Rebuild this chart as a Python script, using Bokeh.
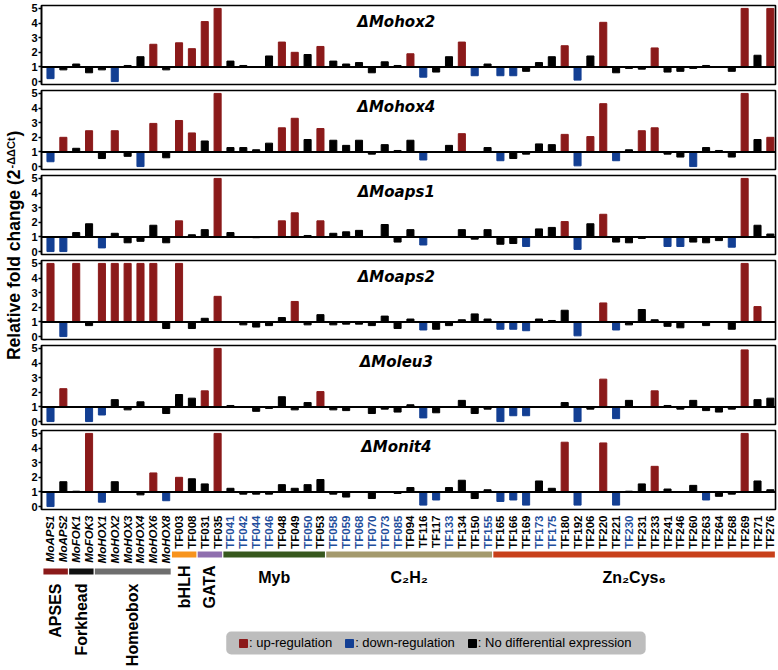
import math
from bokeh.plotting import figure
from bokeh.models import Range1d, Span, Label, ColumnDataSource, FixedTicker, BoxAnnotation
from bokeh.layouts import row, column
from bokeh.embed import file_html
from bokeh.resources import INLINE
from bokeh.core.properties import value

# ---------------- data ----------------
genes = ["MoAPS1", "MoAPS2", "MoFOK1", "MoFOK3", "MoHOX1", "MoHOX2", "MoHOX3", "MoHOX4",
         "MoHOX6", "MoHOX8", "TF003", "TF008", "TF031", "TF035", "TF041", "TF042", "TF044",
         "TF046", "TF048", "TF049", "TF050", "TF053", "TF058", "TF059", "TF068", "TF070",
         "TF073", "TF085", "TF094", "TF116", "TF117", "TF133", "TF134", "TF150", "TF155",
         "TF165", "TF166", "TF169", "TF173", "TF175", "TF180", "TF192", "TF206", "TF220",
         "TF221", "TF230", "TF231", "TF233", "TF241", "TF246", "TF260", "TF263", "TF264",
         "TF268", "TF269", "TF271", "TF276"]
blue_label_genes = ["TF041", "TF042", "TF044", "TF046", "TF050", "TF058", "TF059", "TF068",
                    "TF070", "TF073", "TF085", "TF133", "TF155", "TF173", "TF175", "TF230"]

group_names = ["APSES", "Forkhead", "Homeobox", "bHLH", "GATA", "Myb", "C\u2082H\u2082", "Zn\u2082Cys\u2086"]
group_sizes = [2, 2, 6, 2, 2, 8, 13, 22]
group_colors = ["#8b1a1a", "#111111", "#6e6e6e", "#f7941d", "#8f6fae", "#37581e", "#a49a6d", "#c8401a"]

mutants = ["\u0394Mohox2", "\u0394Mohox4", "\u0394Moaps1", "\u0394Moaps2", "\u0394Moleu3", "\u0394Monit4"]

mohox2 = [0.2, 0.8, 1.2, 0.6, 0.8, 0.0, 1.1, 1.7, 2.55, 0.8,
          2.65, 2.25, 4.1, 5.0, 1.4, 1.1, 1.0, 1.75, 2.7, 2.0,
          1.85, 2.4, 1.4, 1.2, 1.3, 0.6, 1.35, 1.1, 1.9, 0.3,
          0.65, 1.7, 2.7, 0.4, 1.2, 0.4, 0.4, 0.7, 1.3, 1.7,
          2.45, 0.1, 1.75, 4.05, 0.6, 0.9, 0.85, 2.3, 0.65, 0.7,
          0.9, 1.1, 1.0, 0.7, 5.0, 1.8, 5.0]
mohox2_status = "dnnnndnnun" "uuuunnnnuu" "nunnnnnnud" "nnudnddnnn" "udnunnnunn" "nnnnunu"

mohox4 = [0.33, 2.0, 1.25, 2.45, 0.55, 2.45, 0.7, 0.0, 2.95, 0.6,
          3.15, 2.3, 1.75, 5.0, 1.3, 1.3, 1.15, 1.6, 2.65, 3.3,
          1.85, 2.6, 1.8, 1.45, 1.8, 0.85, 1.5, 1.1, 1.8, 0.45,
          1.0, 1.45, 2.25, 1.0, 1.3, 0.4, 0.55, 0.85, 1.55, 1.5,
          2.2, 0.05, 2.05, 4.3, 0.4, 1.15, 2.45, 2.65, 0.85, 0.65,
          0.0, 1.3, 1.1, 0.65, 5.0, 1.85, 2.0]
mohox4_status = "dununundun" "uununnnnuu" "nunnnnnnnd" "nnunndnnnn" "uduudnuunn" "dnnnunu"

moaps1 = [0.0, 0.0, 1.3, 1.9, 0.25, 1.25, 0.6, 0.7, 1.8, 0.6,
          2.1, 1.15, 1.5, 5.0, 1.3, 1.0, 0.95, 1.0, 2.1, 2.65,
          1.1, 2.1, 1.25, 1.35, 1.45, 1.0, 1.85, 0.65, 1.5, 0.45,
          1.0, 0.97, 1.5, 0.85, 1.5, 0.5, 0.55, 0.35, 1.55, 1.65,
          2.05, 0.15, 1.9, 2.55, 0.65, 0.6, 0.9, 1.0, 0.35, 0.35,
          0.65, 0.6, 0.75, 0.3, 5.0, 1.8, 1.2]
moaps1_status = "ddnndnnnnn" "unnunnnnuu" "nunnnnnnnd" "nnnnnnndnn" "udnunnnndd" "nnndunn"

moaps2 = [5.0, 0.0, 5.0, 0.75, 5.0, 5.0, 5.0, 5.0, 5.0, 0.55,
          5.0, 0.55, 1.25, 2.75, 1.0, 0.8, 0.65, 0.75, 1.3, 2.4,
          0.8, 1.5, 0.8, 0.85, 0.85, 0.75, 1.4, 0.55, 1.2, 0.45,
          0.5, 0.75, 1.15, 1.55, 1.2, 0.5, 0.5, 0.4, 1.2, 1.1,
          1.8, 0.05, 1.0, 2.3, 0.45, 0.8, 1.85, 1.15, 0.7, 0.6,
          1.0, 0.75, 1.0, 0.5, 5.0, 2.05, 1.0]
moaps2_status = "udunuuuuun" "unnunnnnnu" "nnnnnnnnnd" "nnnnndddnn" "ndnudnnnnn" "nnnnuun"

moleu3 = [0.0, 2.25, 0.98, 0.0, 0.45, 1.5, 0.8, 1.35, 1.0, 0.55,
          1.85, 1.6, 2.1, 5.0, 1.1, 0.98, 0.7, 0.9, 1.7, 0.8,
          1.3, 2.05, 0.8, 0.75, 1.0, 0.55, 0.85, 0.65, 1.15, 0.25,
          0.6, 1.0, 1.45, 0.55, 0.85, 0.0, 0.4, 0.4, 1.0, 1.0,
          1.3, 0.0, 0.85, 2.9, 0.2, 1.45, 1.0, 2.1, 1.1, 0.85,
          1.45, 0.75, 0.65, 0.85, 4.9, 1.5, 1.6]
moleu3_status = "dunddnnnnn" "nnuunnnnnn" "nunnnnnnnd" "nnnnndddnn" "ndnudnnunn" "nnnnunn"

monit4 = [0.0, 1.7, 1.05, 5.0, 0.3, 1.7, 1.0, 0.8, 2.3, 0.4,
          2.0, 1.9, 1.55, 5.0, 1.25, 0.85, 0.85, 0.85, 1.5, 1.25,
          1.5, 1.85, 0.85, 0.65, 1.0, 0.55, 0.98, 0.9, 1.3, 0.1,
          0.45, 1.3, 1.8, 0.55, 1.15, 0.35, 0.45, 0.1, 1.75, 1.25,
          4.4, 0.1, 1.0, 4.35, 0.1, 1.05, 1.55, 2.75, 1.2, 1.0,
          1.45, 0.45, 0.7, 0.85, 5.0, 1.75, 1.15]
monit4_status = "dnnudnnnud" "unnunnnnnn" "nnnnnnnnnd" "dnnnndddnn" "udnudnnunn" "ndnnunn"

y_ticks = [0, 1, 2, 3, 4, 5]
legend_labels = [": up-regulation", ": down-regulation", ": No differential expression"]

# ---------------- style ----------------
RED, BLUE, BLACK = "#8b1a1a", "#133f93", "#000000"
LABEL_BLUE = "#1f4e9c"
status_color = {"u": RED, "d": BLUE, "n": BLACK}
FONT = "Liberation Sans"

values_list = [mohox2, mohox4, moaps1, moaps2, moleu3, monit4]
status_list = [mohox2_status, mohox4_status, moaps1_status, moaps2_status, moleu3_status, monit4_status]

n = len(genes)
x_idx = list(range(n))
X0, X1 = -0.7, n - 0.6
xr = Range1d(X0, X1)

YLW = 28
PW = 778 - YLW
BL, BR = 12, 3
FRAME_W = PW - BL - BR
panels = []
for k, (name, vals, stat) in enumerate(zip(mutants, values_list, status_list)):
    top_b = 5 if k == 0 else 3
    p = figure(width=PW, height=79 + top_b + 3, x_range=xr, y_range=Range1d(-0.2, 5.2),
               output_backend="svg", toolbar_location=None, title=None,
               x_axis_location=None, y_axis_location="left",
               min_border_left=BL, min_border_right=BR, min_border_top=top_b, min_border_bottom=3,
               outline_line_color="black", outline_line_width=1.6, outline_line_alpha=1)
    p.grid.visible = False
    src = ColumnDataSource(dict(x=x_idx, top=vals, color=[status_color[s] for s in stat]))
    p.vbar(x="x", bottom=1, top="top", width=0.55, fill_color="color", line_color="color", source=src)
    p.add_layout(Span(location=1, dimension="width", line_color="black", line_width=2))
    ax = p.yaxis[0]
    ax.ticker = FixedTicker(ticks=y_ticks)
    ax.major_tick_in = 0
    ax.major_tick_out = 3
    ax.minor_tick_in = 0
    ax.minor_tick_out = 0
    ax.axis_line_width = 1.5
    ax.major_tick_line_width = 1.5
    ax.major_label_standoff = 1
    ax.major_label_text_font = FONT
    ax.major_label_text_font_style = "bold"
    ax.major_label_text_font_size = "11px"
    ax.major_label_text_color = "black"
    p.add_layout(Label(x=26.9, y=4.1, text=name, text_align="center", text_baseline="middle",
                       text_font="DejaVu Sans", text_font_style="bold italic",
                       text_font_size="15px", text_color="black"))
    panels.append(p)

# ---------------- bottom: gene labels, families, legend ----------------
BH = 670 - sum(pp.height for pp in panels)
b = figure(width=PW, height=BH, x_range=xr, y_range=Range1d(-BH, 0),
           output_backend="svg", toolbar_location=None, title=None,
           x_axis_location=None, y_axis_location=None,
           min_border_left=BL, min_border_right=BR, min_border_top=0, min_border_bottom=0,
           outline_line_color=None)
b.grid.visible = False

lab_src = ColumnDataSource(dict(
    x=x_idx, text=genes,
    color=[LABEL_BLUE if g in blue_label_genes else "black" for g in genes],
    style=["bold italic" if g.startswith("Mo") else "bold" for g in genes]))
b.text(x="x", y=-3, text="text", source=lab_src, angle=math.pi / 2,
       text_align="right", text_baseline="middle", text_color="color",
       text_font_style="style", text_font=value(FONT), text_font_size="11.5px")

starts, s = [], 0
for sz in group_sizes:
    starts.append(s)
    s += sz
ends = [st + sz - 1 for st, sz in zip(starts, group_sizes)]
italic_group = [genes[st].startswith("Mo") for st in starts]
lefts = [st - 0.55 for st in starts]
rights = [en + 0.35 for en in ends]
bar_tops = [-56 if it else -39 for it in italic_group]
b.quad(left=lefts, right=rights, top=bar_tops, bottom=[t - 6 for t in bar_tops],
       fill_color=group_colors, line_color=None)

centers = [(l + r) / 2 for l, r in zip(lefts, rights)]
for gname, c, sz, it in zip(group_names, centers, group_sizes, italic_group):
    if sz < 8:
        b.text(x=[c], y=[-71 if it else -53], text=[gname], angle=math.pi / 2,
               text_align="right", text_baseline="middle", text_color="black",
               text_font=value(FONT), text_font_style="bold", text_font_size="16px")
    else:
        b.text(x=[c], y=[-65], text=[gname], text_align="center", text_baseline="middle",
               text_color="black", text_font=value(FONT), text_font_style="bold",
               text_font_size="16px")

# legend: grey rounded panel + Bokeh legend entries
def px_to_x(px):
    return X0 + (px - (YLW + BL)) * (X1 - X0) / FRAME_W

b.add_layout(BoxAnnotation(left=px_to_x(225), right=px_to_x(645), top=-119, bottom=-142,
                           fill_color="#bdbdbd", fill_alpha=1, line_color=None,
                           border_radius=5, level="underlay"))
for lab, col in zip(legend_labels, [RED, BLUE, BLACK]):
    r = b.vbar(x=[0], top=[0], bottom=[0], width=0.5, fill_color=col, line_color=col,
               legend_label=lab)
    r.visible = False
leg = b.legend[0]
leg.location = (237 - (YLW + BL), 16)
leg.orientation = "horizontal"
leg.background_fill_alpha = 0
leg.border_line_color = None
leg.inactive_fill_alpha = 0
leg.label_text_font = FONT
leg.label_text_font_size = "13px"
leg.label_text_color = "black"
leg.glyph_width = 10
leg.glyph_height = 10
leg.label_standoff = 1
leg.label_height = 23
leg.spacing = 12
leg.padding = 0
leg.margin = 0

# ---------------- y axis title ----------------
YH = 670
yl = figure(width=YLW, height=YH, x_range=Range1d(0, YLW), y_range=Range1d(-YH, 0),
            output_backend="svg", toolbar_location=None, title=None,
            x_axis_location=None, y_axis_location=None,
            min_border_left=0, min_border_right=0, min_border_top=0, min_border_bottom=0,
            outline_line_color=None)
yl.grid.visible = False
yl.add_layout(Label(x=13, y=-169, text="Relative fold change (2", angle=math.pi / 2,
                    text_align="right", text_baseline="middle", text_font=FONT,
                    text_font_style="bold", text_font_size="17.5px", text_color="black"))
yl.add_layout(Label(x=10, y=-168, text="-\u0394\u0394Ct", angle=math.pi / 2,
                    text_align="left", text_baseline="middle", text_font=FONT,
                    text_font_style="bold", text_font_size="11px", text_color="black"))
yl.add_layout(Label(x=13, y=-136, text=")", angle=math.pi / 2,
                    text_align="left", text_baseline="middle", text_font=FONT,
                    text_font_style="bold", text_font_size="17.5px", text_color="black"))

layout = row(yl, column(*panels, b))
open("out.html", "w").write(file_html(layout, INLINE))
